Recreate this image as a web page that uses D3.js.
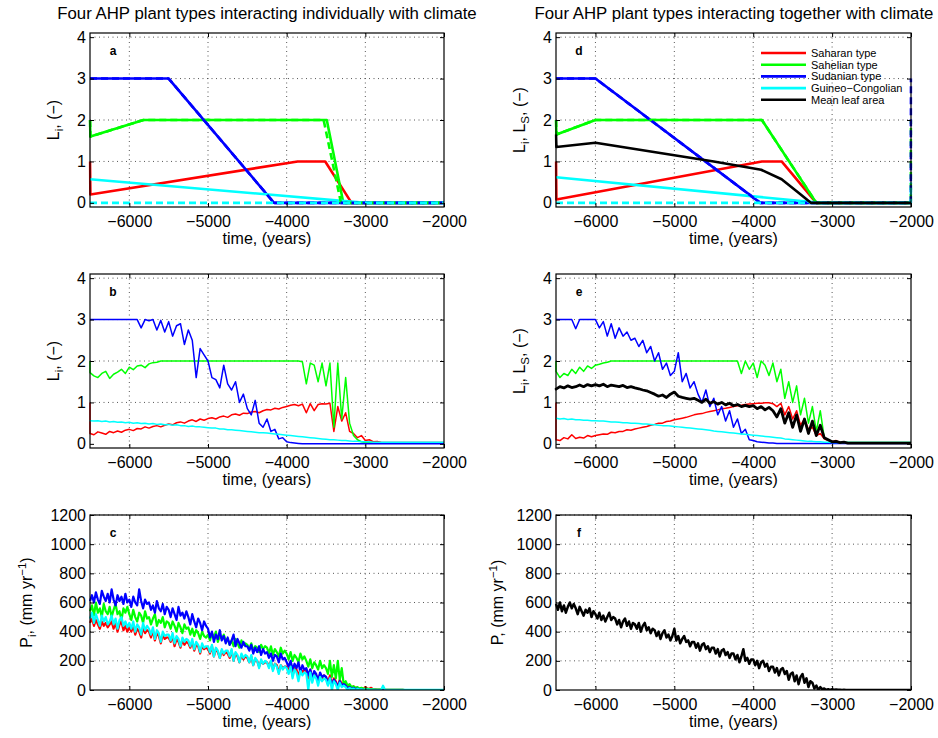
<!DOCTYPE html>
<html>
<head>
<meta charset="utf-8">
<script src="https://cdn.jsdelivr.net/npm/d3@7"></script>
<style>
  body { margin: 0; background: #fff; }
  text { font-family: "Liberation Sans", Arial, Helvetica, sans-serif; fill: #000; }
</style>
</head>
<body>
<script>
// ---------------- data ----------------
const plantTypes = ["Saharan type", "Sahelian type", "Sudanian type", "Guineo\u2212Congolian", "Mean leaf area"]
const xTicks = [-6000, -5000, -4000, -3000, -2000]
const leafTicks = [0, 1, 2, 3, 4]
const rainTicks = [0, 200, 400, 600, 800, 1000, 1200]

// sampling years of the leaf-area runs with variability (b, e)
const years = [-6500,-6450,-6400,-6350,-6300,-6250,-6200,-6150,-6100,-6050,
  -6000,-5950,-5900,-5850,-5800,-5750,-5700,-5650,-5600,-5550,
  -5500,-5450,-5400,-5350,-5300,-5250,-5200,-5150,-5100,-5050,
  -5000,-4950,-4900,-4850,-4800,-4750,-4700,-4650,-4600,-4550,
  -4500,-4450,-4400,-4350,-4300,-4250,-4200,-4150,-4100,-4050,
  -4000,-3950,-3900,-3850,-3800,-3750,-3700,-3650,-3600,-3550,
  -3500,-3450,-3400,-3350,-3300,-3250,-3200,-3150,-3100,-3050,
  -3000,-2950,-2900,-2850,-2800,-2750,-2700,-2650,-2600,-2550,
  -2500,-2450,-2400,-2350,-2300,-2250,-2200,-2150,-2100,-2050,-2000]

// sampling years of the precipitation runs (c, f)
const rainYears = [-6500,-6475,-6450,-6425,-6400,-6375,-6350,-6325,-6300,-6275,
  -6250,-6225,-6200,-6175,-6150,-6125,-6100,-6075,-6050,-6025,
  -6000,-5975,-5950,-5925,-5900,-5875,-5850,-5825,-5800,-5775,
  -5750,-5725,-5700,-5675,-5650,-5625,-5600,-5575,-5550,-5525,
  -5500,-5475,-5450,-5425,-5400,-5375,-5350,-5325,-5300,-5275,
  -5250,-5225,-5200,-5175,-5150,-5125,-5100,-5075,-5050,-5025,
  -5000,-4975,-4950,-4925,-4900,-4875,-4850,-4825,-4800,-4775,
  -4750,-4725,-4700,-4675,-4650,-4625,-4600,-4575,-4550,-4525,
  -4500,-4475,-4450,-4425,-4400,-4375,-4350,-4325,-4300,-4275,
  -4250,-4225,-4200,-4175,-4150,-4125,-4100,-4075,-4050,-4025,
  -4000,-3975,-3950,-3925,-3900,-3875,-3850,-3825,-3800,-3775,
  -3750,-3725,-3700,-3675,-3650,-3625,-3600,-3575,-3550,-3525,
  -3500,-3475,-3450,-3425,-3400,-3375,-3350,-3325,-3300,-3275,
  -3250,-3225,-3200,-3175,-3150,-3125,-3100,-3075,-3050,-3025,
  -3000,-2975,-2950,-2925,-2900,-2875,-2850,-2825,-2800,-2775,
  -2750,-2725,-2700,-2675,-2650,-2625,-2600,-2575,-2550,-2525,
  -2500,-2475,-2450,-2425,-2400,-2375,-2350,-2325,-2300,-2275,
  -2250,-2225,-2200,-2175,-2150,-2125,-2100,-2075,-2050,-2025,-2000]

// panel a: individual, no variability (vertices)
const aRedT = [-6500, -6495, -3860, -3510, -3175, -2000], aRed = [1, 0.2, 1, 1, 0, 0]
const aGreenT = [-6500, -6495, -5820, -3490, -3280, -2000], aGreen = [2, 1.6, 2, 2, 0, 0]
const aBlueT = [-6500, -5500, -4160, -2000], aBlue = [3, 3, 0, 0]
const aCyanT = [-6500, -3000, -2000], aCyan = [0.57, 0, 0]
const aGreenDashT = [-6500, -6495, -5820, -3530, -3310, -2000], aGreenDash = [2, 1.6, 2, 2, 0, 0]
const aCyanDashT = [-6500, -2000], aCyanDash = [0, 0]

// panel d: together, no variability (vertices)
const dRedT = [-6500, -6495, -3890, -3640, -3200, -2000], dRed = [1, 0.08, 1, 1, 0, 0]
const dGreenT = [-6500, -6495, -6000, -3890, -3200, -2000], dGreen = [2, 1.65, 2, 2, 0, 0]
const dBlueT = [-6500, -6000, -3910, -2000], dBlue = [3, 3, 0, 0]
const dCyanT = [-6500, -3150, -2000], dCyan = [0.62, 0, 0]
const dMeanT = [-6500, -6495, -6000, -5000, -4500, -3900, -3640, -3410, -3270, -2000]
const dMean = [1.65, 1.35, 1.45, 1.15, 1.0, 0.8, 0.57, 0.22, 0, 0]
const dGreenDashT = [-6500, -6495, -6000, -3890, -3200, -2002, -2000], dGreenDash = [2, 1.65, 2, 2, 0, 0, 2]
const dBlueDashT = [-6500, -6000, -3910, -2002, -2000], dBlueDash = [3, 3, 0, 0, 3]
const dCyanDashT = [-6500, -2002, -2000], dCyanDash = [0, 0, 0.5]

// panel b: individual, with variability (start value, then one value per year)
const bStart = [1, 2, 3, 0.57]
const bRed = [0.25,0.22,0.29,0.26,0.23,0.3,0.27,0.31,0.28,0.33,
  0.35,0.32,0.37,0.36,0.41,0.38,0.42,0.44,0.41,0.45,
  0.48,0.46,0.51,0.53,0.5,0.55,0.58,0.54,0.6,0.57,
  0.61,0.63,0.6,0.65,0.67,0.64,0.7,0.72,0.69,0.74,
  0.73,0.77,0.78,0.75,0.8,0.83,0.82,0.86,0.84,0.88,
  0.9,0.93,0.95,0.92,0.96,0.75,0.97,0.8,0.95,0.97,
  0.96,0.98,0.3,0.9,0.55,0.75,0.3,0.25,0.15,0.2,
  0.08,0.1,0.05,0.06,0.04,0.03,0.03,0.03,0.03,0.03,
  0.03,0.03,0.03,0.03,0.03,0.03,0.03,0.03,0.03,0.03,0.03]
const bGreen = [1.72,1.64,1.6,1.7,1.75,1.58,1.68,1.73,1.8,1.7,
  1.85,1.79,1.88,1.9,1.84,1.93,1.96,1.97,2,2,
  2,2,2,2,2,2,2,2,2,2,
  2,2,2,2,2,2,2,2,2,2,
  2,2,2,2,2,2,2,2,2,2,
  2,2,2,2,1.98,1.45,1.95,1.9,1.5,1.95,
  1.4,1.95,0.4,1.95,0.6,1.6,0.5,0.2,0.1,0.05,
  0.03,0.03,0.02,0.02,0.02,0.02,0.02,0.02,0.02,0.02,
  0.02,0.02,0.02,0.02,0.02,0.02,0.02,0.02,0.02,0.02,0.02]
const bBlue = [3,3,3,3,3,3,3,3,3,3,
  3,3,3,2.8,3,2.97,3,2.75,2.98,2.7,
  2.95,2.6,2.85,2.9,2.4,2.75,2.5,1.6,2.3,2.15,
  2.0,1.6,1.55,1.35,1.9,1.45,1.3,1.5,1.0,1.2,
  0.85,0.7,1.05,0.5,0.4,0.6,0.3,0.35,0.12,0.15,
  0.05,0.03,0.02,0.01,0,0,0,0,0,0,
  0,0,0,0,0,0,0,0,0,0,
  0,0,0,0,0,0,0,0,0,0,
  0,0,0,0,0,0,0,0,0,0,0]
const bCyan = [0.56,0.55,0.56,0.54,0.55,0.53,0.54,0.52,0.53,0.51,
  0.52,0.5,0.51,0.49,0.5,0.48,0.49,0.47,0.48,0.46,
  0.47,0.45,0.46,0.44,0.44,0.42,0.43,0.41,0.41,0.4,
  0.39,0.38,0.38,0.36,0.36,0.34,0.34,0.33,0.32,0.31,
  0.3,0.29,0.28,0.27,0.27,0.26,0.25,0.24,0.23,0.22,
  0.21,0.2,0.19,0.18,0.17,0.16,0.15,0.14,0.13,0.12,
  0.11,0.1,0.1,0.09,0.08,0.08,0.07,0.06,0.06,0.05,
  0.05,0.05,0.04,0.04,0.04,0.04,0.04,0.04,0.04,0.04,
  0.04,0.04,0.04,0.04,0.04,0.04,0.04,0.04,0.04,0.04,0.04]

// panel e: together, with variability
const eStart = [1, 2, 3, 0.62, 1.35]
const eRed = [0.1,0.08,0.15,0.12,0.22,0.13,0.16,0.14,0.2,0.17,
  0.2,0.22,0.24,0.23,0.28,0.27,0.3,0.3,0.34,0.33,
  0.36,0.38,0.4,0.42,0.45,0.47,0.5,0.5,0.54,0.55,
  0.58,0.6,0.62,0.64,0.67,0.7,0.72,0.73,0.76,0.78,
  0.8,0.82,0.85,0.86,0.88,0.9,0.92,0.93,0.95,0.96,
  0.97,0.98,0.98,0.99,0.99,0.97,0.9,0.98,0.7,0.9,
  0.6,0.8,0.45,0.6,0.35,0.4,0.2,0.25,0.12,0.08,
  0.05,0.08,0.03,0.03,0.02,0.02,0.02,0.02,0.02,0.02,
  0.02,0.02,0.02,0.02,0.02,0.02,0.02,0.02,0.02,0.02,0.02]
const eGreen = [1.75,1.6,1.7,1.65,1.8,1.7,1.85,1.75,1.88,1.82,
  1.9,1.92,1.95,1.97,2,2,2,2,2,2,
  2,2,2,2,2,2,2,2,2,2,
  2,2,2,2,2,2,2,2,2,2,
  2,2,2,2,2,2,2,1.7,2,1.8,
  1.95,1.6,2,1.9,1.65,1.95,1.5,1.8,1.1,1.5,
  1.0,1.4,0.7,1.1,0.5,0.9,0.3,0.8,0.15,0.1,
  0.05,0.03,0.03,0.03,0.03,0.03,0.03,0.03,0.03,0.03,
  0.03,0.03,0.03,0.03,0.03,0.03,0.03,0.03,0.03,0.03,0.03]
const eBlue = [3,3,3,3,3,2.78,3,3,3,3,
  3,2.8,2.95,2.6,2.9,2.55,2.8,2.6,2.7,2.5,
  2.55,2.35,2.5,2.2,2.35,2.0,2.2,1.8,1.95,1.65,
  1.75,2.2,1.5,1.7,1.35,1.5,1.2,1.0,1.3,0.9,
  1.1,0.7,0.9,0.55,0.8,0.4,0.6,0.25,0.35,0.1,
  0.08,0.05,0.04,0.03,0.02,0.02,0.01,0.01,0.01,0.01,
  0.01,0.01,0.01,0.01,0.01,0.01,0.01,0.01,0.01,0.01,
  0.01,0.01,0.01,0.01,0.01,0.01,0.01,0.01,0.01,0.01,
  0.01,0.01,0.01,0.01,0.01,0.01,0.01,0.01,0.01,0.01,0.01]
const eCyan = [0.62,0.6,0.61,0.59,0.6,0.58,0.58,0.57,0.57,0.56,
  0.56,0.55,0.55,0.54,0.53,0.53,0.52,0.51,0.51,0.5,
  0.5,0.49,0.48,0.48,0.47,0.46,0.45,0.44,0.44,0.43,
  0.42,0.41,0.4,0.39,0.38,0.37,0.36,0.35,0.34,0.33,
  0.31,0.3,0.29,0.28,0.27,0.26,0.25,0.24,0.23,0.22,
  0.21,0.2,0.19,0.18,0.17,0.16,0.15,0.14,0.12,0.11,
  0.1,0.09,0.08,0.07,0.06,0.06,0.05,0.05,0.04,0.04,
  0.03,0.03,0.03,0.03,0.03,0.03,0.03,0.03,0.03,0.03,
  0.03,0.03,0.03,0.03,0.03,0.03,0.03,0.03,0.03,0.03,0.03]
const eMean = [1.32,1.38,1.35,1.4,1.36,1.38,1.42,1.38,1.43,1.4,
  1.43,1.4,1.44,1.38,1.42,1.4,1.38,1.41,1.36,1.38,
  1.35,1.33,1.3,1.28,1.24,1.2,1.15,1.18,1.12,1.2,
  1.25,1.15,1.12,1.1,1.08,1.1,1.05,1.0,1.08,0.98,
  1.02,0.96,1.0,0.94,0.98,0.92,0.95,0.9,0.93,0.9,
  0.92,0.85,0.9,0.82,0.88,0.8,0.65,0.85,0.5,0.75,
  0.4,0.7,0.3,0.6,0.25,0.55,0.2,0.45,0.15,0.1,
  0.05,0.06,0.03,0.04,0.02,0.02,0.02,0.02,0.02,0.02,
  0.02,0.02,0.02,0.02,0.02,0.02,0.02,0.02,0.02,0.02,0.02]

// panel c: precipitation per plant type (mm/yr), one value per rainYears
const cRed = [460,490,440,480,450,420,470,440,460,430,
  450,470,420,460,400,450,470,410,440,400,
  430,400,440,380,420,400,360,430,390,410,
  400,360,410,340,390,370,320,380,350,360,
  360,330,370,300,350,330,290,340,310,330,
  320,290,330,270,310,300,250,300,280,290,
  280,250,300,230,280,260,220,270,240,260,
  250,220,270,200,250,230,190,240,210,230,
  220,190,230,170,210,200,160,200,180,190,
  190,160,200,140,180,170,120,170,150,160,
  160,130,170,100,150,140,90,150,120,140,
  130,80,140,70,120,100,60,110,80,100,
  90,50,100,30,80,60,20,70,40,50,
  40,20,30,10,25,10,15,5,10,5,
  20,10,8,15,5,5,3,2,2,2,
  1,1,1,1,1,1,1,1,1,1,
  0,0,0,0,0,0,0,0,0,0,
  0,0,0,0,0,0,0,0,0,0,0]
const cGreen = [540,580,510,600,530,560,500,590,540,520,
  570,500,550,590,520,540,480,560,530,570,
  520,480,550,500,470,530,510,460,540,490,
  500,450,490,520,440,480,460,500,430,470,
  460,420,470,440,400,460,430,390,450,420,
  430,380,420,370,410,390,350,400,370,360,
  380,340,390,360,400,330,370,350,380,340,
  350,310,340,300,350,320,290,340,310,320,
  310,280,320,270,300,290,260,310,280,300,
  290,250,300,240,280,260,230,290,250,270,
  250,210,260,200,240,220,190,250,210,230,
  200,160,210,150,190,170,140,200,150,170,
  150,110,200,90,170,80,200,70,150,40,
  60,30,40,20,25,15,20,10,15,8,
  10,8,6,5,4,3,3,2,2,2,
  1,1,1,1,1,1,1,1,1,1,
  0,0,0,0,0,0,0,0,0,0,
  0,0,0,0,0,0,0,0,0,0,0]
const cBlue = [610,650,600,670,620,590,680,640,610,660,
  600,690,620,580,650,610,640,590,660,600,
  620,570,640,600,580,690,610,560,620,590,
  600,550,580,530,610,560,540,590,520,570,
  550,500,560,520,480,570,510,530,490,540,
  500,450,520,470,430,490,460,410,470,440,
  420,360,400,330,380,350,410,340,370,320,
  360,310,340,380,300,350,320,290,330,300,
  300,270,310,250,290,260,300,240,280,250,
  260,220,250,200,240,230,190,250,210,220,
  190,160,200,140,180,150,190,120,170,140,
  150,100,140,80,130,110,60,120,90,100,
  90,40,80,30,70,50,20,60,30,40,
  30,10,20,5,15,5,10,0,5,0,
  0,0,0,0,0,0,0,0,0,0,
  0,0,0,0,0,0,0,0,0,0,
  0,0,0,0,0,0,0,0,0,0,
  0,0,0,0,0,0,0,0,0,0,0]
const cCyan = [490,530,460,520,480,440,510,470,500,450,
  470,510,450,490,420,480,500,440,470,430,
  460,420,470,400,450,430,380,460,410,440,
  420,380,430,350,410,390,330,400,370,380,
  380,340,390,320,370,350,300,360,330,350,
  340,300,350,280,330,310,260,320,290,300,
  300,260,310,230,290,270,220,280,250,270,
  270,230,280,200,260,240,190,250,220,240,
  230,190,240,170,220,200,150,210,180,200,
  190,150,200,130,180,160,110,170,140,160,
  150,110,160,80,140,120,60,130,100,120,
  110,0,120,50,100,80,30,90,60,80,
  70,30,80,0,60,40,0,50,20,30,
  20,0,15,5,10,0,8,3,5,2,
  5,3,2,3,2,1,1,1,1,30,
  2,1,1,1,1,1,1,1,1,1,
  1,1,1,1,1,1,1,1,1,1,
  1,1,1,1,1,1,1,1,1,1,1]

// panel f: precipitation, together (mm/yr)
const fMean = [590,550,600,540,580,530,570,600,560,590,
  560,520,570,540,510,550,530,560,500,540,
  520,490,530,480,510,470,500,530,480,500,
  490,450,480,430,470,490,440,470,420,460,
  450,420,460,400,440,460,410,430,390,420,
  410,370,400,350,390,410,360,380,340,370,
  420,340,370,320,350,370,330,340,300,330,
  330,290,320,270,310,320,280,300,260,290,
  290,250,280,230,270,280,240,260,220,250,
  250,210,240,190,230,280,200,220,180,210,
  210,170,200,150,190,200,160,180,130,160,
  160,120,150,100,140,150,110,130,70,110,
  120,60,100,40,90,110,50,80,20,60,
  50,10,30,0,20,5,10,0,5,0,
  5,2,3,1,2,0,1,0,0,0,
  0,0,0,0,0,0,0,0,0,0,
  0,0,0,0,0,0,0,0,0,0,
  0,0,0,0,0,0,0,0,0,0,0]

// ---------------- drawing ----------------
const COLORS = ["#ff0000", "#00ff00", "#0000ff", "#00ffff", "#000000"]
const W = 938, H = 738
const FS = 16

const svg = d3.select("body").append("svg")
  .attr("width", W)
  .attr("height", H)

const pairs = (ts, vs) => ts.map((t, i) => [t, vs[i]])
const noisy = (start, vs) => [[-6500, start]].concat(years.map((t, i) => [t, vs[i]]))
const rain = vs => rainYears.map((t, i) => [t, vs[i]])

function makePanel(id, box, yDomain, yTicks, labelParts, labelX, letter) {
  const x = d3.scaleLinear().domain([-6500, -2000]).range([box.left, box.right])
  const y = d3.scaleLinear().domain(yDomain).range([box.bottom, box.top])
  const g = svg.append("g")

  // a little wider than the box so lines sitting on the left/right edge stay visible
  svg.append("clipPath").attr("id", "clip-" + id)
    .append("rect")
    .attr("x", box.left - 1.5).attr("y", box.top)
    .attr("width", box.right - box.left + 3).attr("height", box.bottom - box.top)

  // dotted grid
  g.selectAll(".vg").data(xTicks.slice(0, -1)).join("line")
    .attr("x1", d => x(d)).attr("x2", d => x(d))
    .attr("y1", box.top).attr("y2", box.bottom)
    .attr("stroke", "#444").attr("stroke-width", 0.9).attr("stroke-dasharray", "1,3.5")
  g.selectAll(".hg").data(yTicks.slice(1)).join("line")
    .attr("x1", box.left).attr("x2", box.right)
    .attr("y1", d => y(d)).attr("y2", d => y(d))
    .attr("stroke", "#444").attr("stroke-width", 0.9).attr("stroke-dasharray", "1,3.5")

  const plot = g.append("g").attr("clip-path", `url(#clip-${id})`)

  // axes (MATLAB style: ticks inside on all four sides)
  const fmt = d3.format("d")
  const ax = svg.append("g")
  ax.append("g").attr("transform", `translate(0,${box.bottom})`)
    .call(d3.axisBottom(x).tickValues(xTicks).tickFormat(fmt).tickSize(-4).tickPadding(9))
  ax.append("g").attr("transform", `translate(0,${box.top})`)
    .call(d3.axisTop(x).tickValues(xTicks).tickSize(-4).tickFormat(""))
  ax.append("g").attr("transform", `translate(${box.left},0)`)
    .call(d3.axisLeft(y).tickValues(yTicks).tickFormat(fmt).tickSize(-4).tickPadding(4))
  ax.append("g").attr("transform", `translate(${box.right},0)`)
    .call(d3.axisRight(y).tickValues(yTicks).tickSize(-4).tickFormat(""))
  ax.selectAll(".domain").remove()
  ax.selectAll(".tick line").attr("stroke", "#000")
  ax.selectAll(".tick text").attr("font-size", FS)
    .attr("font-family", '"Liberation Sans", Arial, sans-serif')

  ax.append("rect")
    .attr("x", box.left).attr("y", box.top)
    .attr("width", box.right - box.left).attr("height", box.bottom - box.top)
    .attr("fill", "none").attr("stroke", "#000").attr("stroke-width", 1.2)

  // x label
  svg.append("text")
    .attr("x", (box.left + box.right) / 2).attr("y", box.bottom + 37)
    .attr("text-anchor", "middle").attr("font-size", FS)
    .text("time, (years)")

  // y label with sub/superscripts
  const yl = svg.append("text")
    .attr("transform", `translate(${labelX},${(box.top + box.bottom) / 2}) rotate(-90)`)
    .attr("text-anchor", "middle").attr("font-size", FS)
  let cur = 0
  labelParts.forEach(p => {
    const shift = p[1] === "sub" ? 4 : p[1] === "sup" ? -6 : 0
    yl.append("tspan").attr("dy", shift - cur).attr("font-size", shift ? 11.5 : FS).text(p[0])
    cur = shift
  })

  // panel letter
  svg.append("text")
    .attr("x", box.left + 23).attr("y", box.top + 22)
    .attr("text-anchor", "middle").attr("font-size", 12).attr("font-weight", "bold")
    .text(letter)

  const line = d3.line().x(d => x(d[0])).y(d => y(d[1]))
  function draw(data, color, width, dash) {
    plot.append("path")
      .attr("d", line(data))
      .attr("fill", "none")
      .attr("stroke", color)
      .attr("stroke-width", width)
      .attr("stroke-linejoin", "round")
      .attr("stroke-dasharray", dash || null)
  }
  return { x, y, draw, g }
}

const leafY = [-0.1, 4.1]
const rainY = [0, 1200]
const left = { l: 90, r: 444 }, right = { l: 556, r: 911 }
const rows = [{ t: 33, b: 207 }, { t: 274, b: 448 }, { t: 515, b: 690 }]
const boxOf = (c, r) => ({ left: c.l, right: c.r, top: r.t, bottom: r.b })

const LI = [["L", ""], ["i", "sub"], [", (\u2212)", ""]]
const LIS = [["L", ""], ["i", "sub"], [", L", ""], ["S", "sub"], [", (\u2212)", ""]]
const PI = [["P", ""], ["i", "sub"], [", (mm yr", ""], ["\u22121", "sup"], [")", ""]]
const PM = [["P, (mm yr", ""], ["\u22121", "sup"], [")", ""]]

// titles
svg.append("text").attr("x", 267).attr("y", 19).attr("text-anchor", "middle")
  .attr("font-size", 16.8).text("Four AHP plant types interacting individually with climate")
svg.append("text").attr("x", 734).attr("y", 19).attr("text-anchor", "middle")
  .attr("font-size", 16.8).text("Four AHP plant types interacting together with climate")

// a
const pa = makePanel("a", boxOf(left, rows[0]), leafY, leafTicks, LI, 59, "a")
pa.draw(pairs(aRedT, aRed), COLORS[0], 2.6)
pa.draw(pairs(aGreenT, aGreen), COLORS[1], 2.6)
pa.draw(pairs(aBlueT, aBlue), COLORS[2], 2.6)
pa.draw(pairs(aCyanT, aCyan), COLORS[3], 2.6)
pa.draw(pairs(aGreenDashT, aGreenDash), COLORS[1], 2.6, "7,4")
pa.draw(pairs(aBlueT, aBlue), COLORS[2], 2.6, "7,4")
pa.draw(pairs(aCyanDashT, aCyanDash), COLORS[3], 2.6, "7,4")

// b
const pb = makePanel("b", boxOf(left, rows[1]), leafY, leafTicks, LI, 59, "b")
;[bRed, bGreen, bBlue, bCyan].forEach((s, i) => pb.draw(noisy(bStart[i], s), COLORS[i], 1.5))

// c
const pc = makePanel("c", boxOf(left, rows[2]), rainY, rainTicks, PI, 32, "c")
;[cRed, cGreen, cBlue, cCyan].forEach((s, i) => pc.draw(rain(s), COLORS[i], 2.2))

// d
const pd = makePanel("d", boxOf(right, rows[0]), leafY, leafTicks, LIS, 525, "d")
pd.draw(pairs(dRedT, dRed), COLORS[0], 2.6)
pd.draw(pairs(dGreenT, dGreen), COLORS[1], 2.6)
pd.draw(pairs(dBlueT, dBlue), COLORS[2], 2.6)
pd.draw(pairs(dCyanT, dCyan), COLORS[3], 2.6)
pd.draw(pairs(dGreenDashT, dGreenDash), COLORS[1], 2.6, "7,4")
pd.draw(pairs(dBlueDashT, dBlueDash), COLORS[2], 2.6, "7,4")
pd.draw(pairs(dCyanDashT, dCyanDash), COLORS[3], 2.6, "7,4")
pd.draw(pairs(dMeanT, dMean), COLORS[4], 2.6)

// legend (no box, as in the original)
const lg = svg.append("g").attr("transform", "translate(761,53)")
plantTypes.forEach((name, i) => {
  lg.append("line").attr("x1", 0).attr("x2", 45).attr("y1", i * 11.7).attr("y2", i * 11.7)
    .attr("stroke", COLORS[i]).attr("stroke-width", 2.6)
  lg.append("text").attr("x", 50).attr("y", i * 11.7).attr("dy", "0.35em")
    .attr("font-size", 11).text(name)
})

// e
const pe = makePanel("e", boxOf(right, rows[1]), leafY, leafTicks, LIS, 525, "e")
;[eRed, eGreen, eBlue, eCyan].forEach((s, i) => pe.draw(noisy(eStart[i], s), COLORS[i], 1.5))
pe.draw(noisy(eStart[4], eMean), COLORS[4], 2.8)

// f
const pf = makePanel("f", boxOf(right, rows[2]), rainY, rainTicks, PM, 503, "f")
pf.draw(rain(fMean), COLORS[4], 2.5)
</script>
</body>
</html>
